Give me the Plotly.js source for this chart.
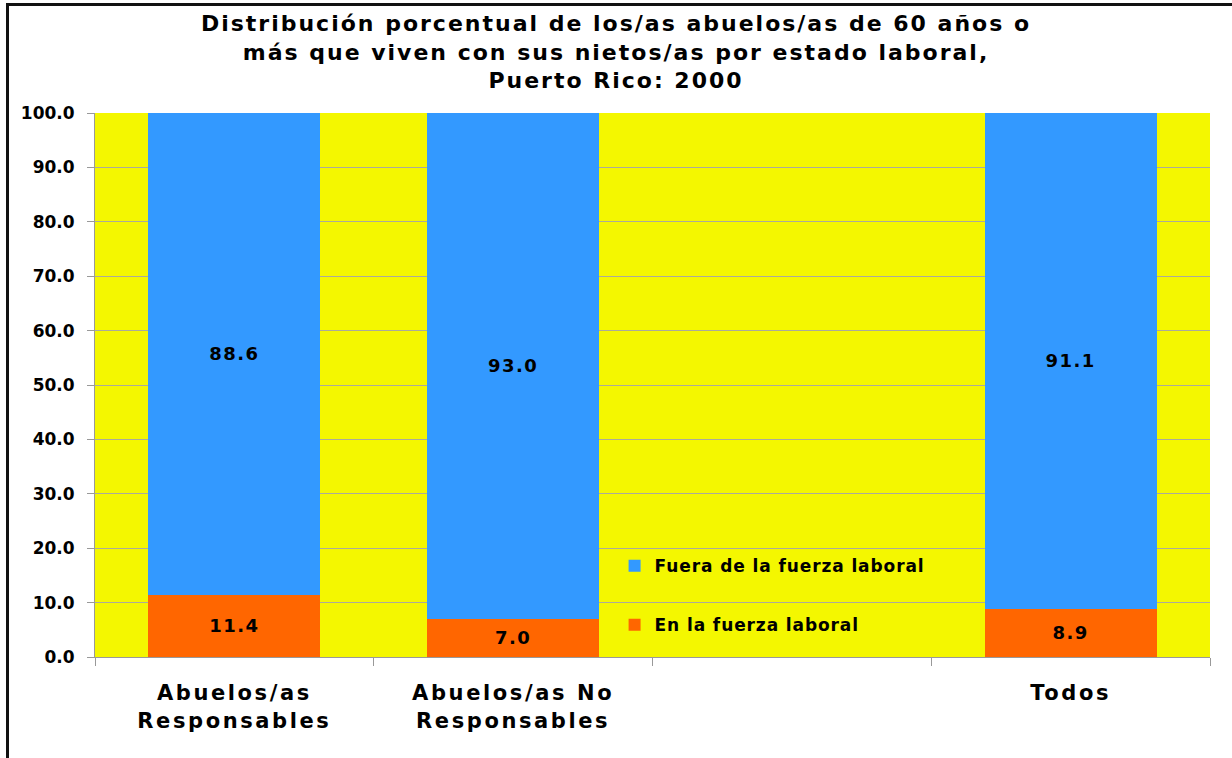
<!DOCTYPE html>
<html>
<head>
<meta charset="utf-8">
<script src="https://cdn.plot.ly/plotly-3.0.1.min.js"></script>
<style>
  html, body { margin: 0; padding: 0; background: #fff; }
  #frame { position: absolute; left: 6px; top: 3px; width: 1226px; height: 755px;
           border-top: 3px solid #111; border-left: 3px solid #111; box-sizing: border-box; }
  #chart { position: absolute; left: 0; top: 0; width: 1232px; height: 758px; }
  .gtitle { letter-spacing: 2.0px; }
  .xtick text { letter-spacing: 2.6px; }
  .bartext { letter-spacing: 1.5px; }
  .legendtext { letter-spacing: 0.9px; }
</style>
</head>
<body>
<div id="frame"></div>
<div id="chart"></div>
<script>
const categories = ["Abuelos/as<br>Responsables", "Abuelos/as No<br>Responsables", " ", "Todos"];
const enFuerza = [11.4, 7.0, null, 8.9];
const fueraFuerza = [88.6, 93.0, null, 91.1];
const seriesNames = ["En la fuerza laboral", "Fuera de la fuerza laboral"];
const yTicks = [0, 10, 20, 30, 40, 50, 60, 70, 80, 90, 100];

const fontFam = "DejaVu Sans, Arial, sans-serif";
const labelFont = {family: fontFam, size: 18, color: "#000", weight: "bold"};

const traces = [
  {
    type: "bar", x: categories, y: enFuerza, name: seriesNames[0],
    marker: {color: "#FF6600"}, width: 0.617,
    text: enFuerza.map(v => v == null ? "" : v.toFixed(1)),
    textposition: "inside", insidetextanchor: "middle", textfont: labelFont,
    legendgroup: "a", legendrank: 2, hoverinfo: "none"
  },
  {
    type: "bar", x: categories, y: fueraFuerza, name: seriesNames[1],
    marker: {color: "#3399FF"}, width: 0.617,
    text: fueraFuerza.map(v => v == null ? "" : v.toFixed(1)),
    textposition: "inside", insidetextanchor: "middle", textfont: labelFont,
    legendgroup: "b", legendrank: 1, hoverinfo: "none"
  }
];

const layout = {
  width: 1232, height: 758,
  paper_bgcolor: "rgba(0,0,0,0)",
  plot_bgcolor: "#F4F700",
  margin: {l: 95, r: 22, t: 113, b: 101},
  barmode: "stack",
  showlegend: true,
  title: {
    text: "Distribución porcentual de los/as abuelos/as de 60 años o<br>más que viven con sus nietos/as por estado laboral,<br>Puerto Rico: 2000",
    x: 0.5, xref: "container", xanchor: "center",
    y: 0.959, yref: "container", yanchor: "top",
    font: {family: fontFam, size: 22, color: "#000", weight: "bold"}
  },
  xaxis: {
    type: "category",
    tickson: "boundaries",
    ticks: "outside", ticklen: 8, tickcolor: "#999", tickwidth: 1,
    showline: true, linecolor: "#999", linewidth: 1,
    showgrid: false,
    ticklabelstandoff: 17,
    tickfont: {family: fontFam, size: 21, color: "#000", weight: "bold"},
    fixedrange: true
  },
  yaxis: {
    range: [0, 100],
    tickvals: yTicks,
    ticktext: yTicks.map(v => v.toFixed(1)),
    ticks: "outside", ticklen: 7, tickcolor: "#999",
    showline: true, linecolor: "#999", linewidth: 1,
    showgrid: true, gridcolor: "#ABAB9A", gridwidth: 1,
    zeroline: false,
    ticklabelstandoff: 9,
    tickfont: {family: fontFam, size: 17, color: "#000", weight: "bold"},
    fixedrange: true
  },
  legend: {
    x: 0.466, y: 0.2, xanchor: "left", yanchor: "top",
    bgcolor: "rgba(0,0,0,0)",
    traceorder: "grouped",
    tracegroupgap: 34,
    font: {family: fontFam, size: 17, color: "#000", weight: "bold"}
  }
};

Plotly.newPlot("chart", traces, layout, {displayModeBar: false, staticPlot: true});
</script>
</body>
</html>
